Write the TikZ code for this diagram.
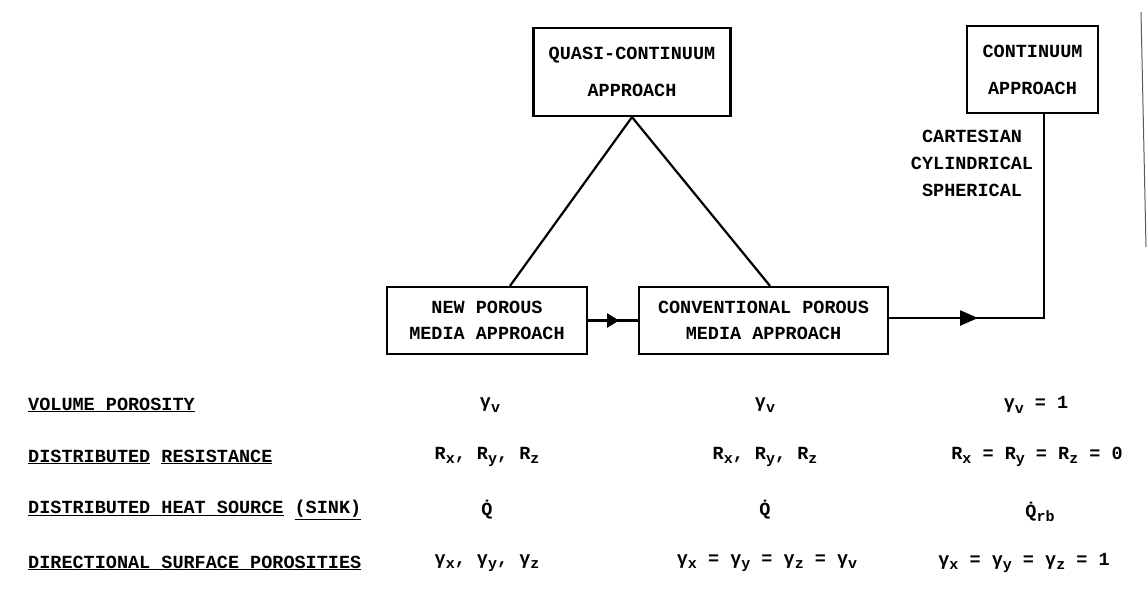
\documentclass[tikz,border=0pt]{standalone}
\usepackage{fontspec}
\setmonofont{Liberation Mono}
\usetikzlibrary{arrows.meta,decorations.markings}
\newcommand\sbs[1]{\raisebox{-0.45ex}{\fontsize{15}{15}\selectfont #1}}
\newcommand\qdot{\.{Q}}
\tikzset{
  box/.style={draw, line width=2.2pt, inner sep=0pt, align=center,
    font=\ttfamily\bfseries\fontsize{18.5}{37}\selectfont},
  boxlow/.style={box, font=\ttfamily\bfseries\fontsize{18.5}{26}\selectfont},
  conn/.style={line width=2.2pt},
  midarrow/.style n args={3}{conn, postaction={decorate, decoration={markings,
    mark=at position #1 with {\arrow{Triangle[length=#2,width=#3]}}}}},
  txt/.style={inner sep=0pt, font=\ttfamily\bfseries\fontsize{18.5}{27}\selectfont},
  rowlbl/.style={txt, anchor=west},
  val/.style={txt}
}
\begin{document}
\begin{tikzpicture}[x=1pt,y=-1pt]
\useasboundingbox (0,0) rectangle (1147,613);
% boxes
\node[box, minimum width=197pt, minimum height=88pt] (quasi) at (632,72) {QUASI-CONTINUUM\\APPROACH};
\node[box, minimum width=131pt, minimum height=87pt] (cont) at (1032.5,69.5) {CONTINUUM\\APPROACH};
\node[boxlow, minimum width=200pt, minimum height=67pt] (new) at (487,320.5) {NEW POROUS\\MEDIA APPROACH};
\node[boxlow, minimum width=249pt, minimum height=67pt] (conv) at (763.5,320.5) {CONVENTIONAL POROUS\\MEDIA APPROACH};
% connectors
\draw[conn] (quasi.south) -- ([xshift=23pt]new.north);
\draw[conn] (quasi.south) -- ([xshift=6.5pt]conv.north);
\draw[midarrow={31pt}{12pt}{14pt}] (new.east) -- (conv.west);
\coordinate (elbow) at (1044,318);
\draw[midarrow={89pt}{18pt}{15pt}, line join=miter] (conv.east |- elbow) -- (elbow) -- (elbow |- cont.south);
% coordinate systems label
\node[txt, align=center] (coords) at (972,163) {CARTESIAN\\CYLINDRICAL\\SPHERICAL};
% page edge line
\coordinate (edgetop) at (1141,12);
\coordinate (edgebot) at (1146,247);
\draw[gray!70!black, line width=1pt] (edgetop) -- (edgebot);
% row labels
\node[rowlbl] (l1) at (28,405) {\underline{VOLUME POROSITY}};
\node[rowlbl] (l2) at (28,457) {\underline{DISTRIBUTED} \underline{RESISTANCE}};
\node[rowlbl] (l3) at (28,510) {\underline{DISTRIBUTED HEAT SOURCE} \underline{(SINK)}};
\node[rowlbl] (l4) at (28,563) {\underline{DIRECTIONAL SURFACE POROSITIES}};
% values column 1
\node[val] (a1) at (490,405) {γ\sbs{v}};
\node[val] (a2) at (487,457) {R\sbs{x}, R\sbs{y}, R\sbs{z}};
\node[val] (a3) at (487,510) {\qdot};
\node[val] (a4) at (487,563) {γ\sbs{x}, γ\sbs{y}, γ\sbs{z}};
% values column 2
\node[val] (b1) at (765,405) {γ\sbs{v}};
\node[val] (b2) at (765,457) {R\sbs{x}, R\sbs{y}, R\sbs{z}};
\node[val] (b3) at (765,510) {\qdot};
\node[val] (b4) at (767,563) {γ\sbs{x} = γ\sbs{y} = γ\sbs{z} = γ\sbs{v}};
% values column 3
\node[val] (c1) at (1036,405) {γ\sbs{v} = 1};
\node[val] (c2) at (1037,457) {R\sbs{x} = R\sbs{y} = R\sbs{z} = 0};
\node[val] (c3) at (1040,512) {\qdot\sbs{rb}};
\node[val] (c4) at (1024,563) {γ\sbs{x} = γ\sbs{y} = γ\sbs{z} = 1};
\end{tikzpicture}
\end{document}
